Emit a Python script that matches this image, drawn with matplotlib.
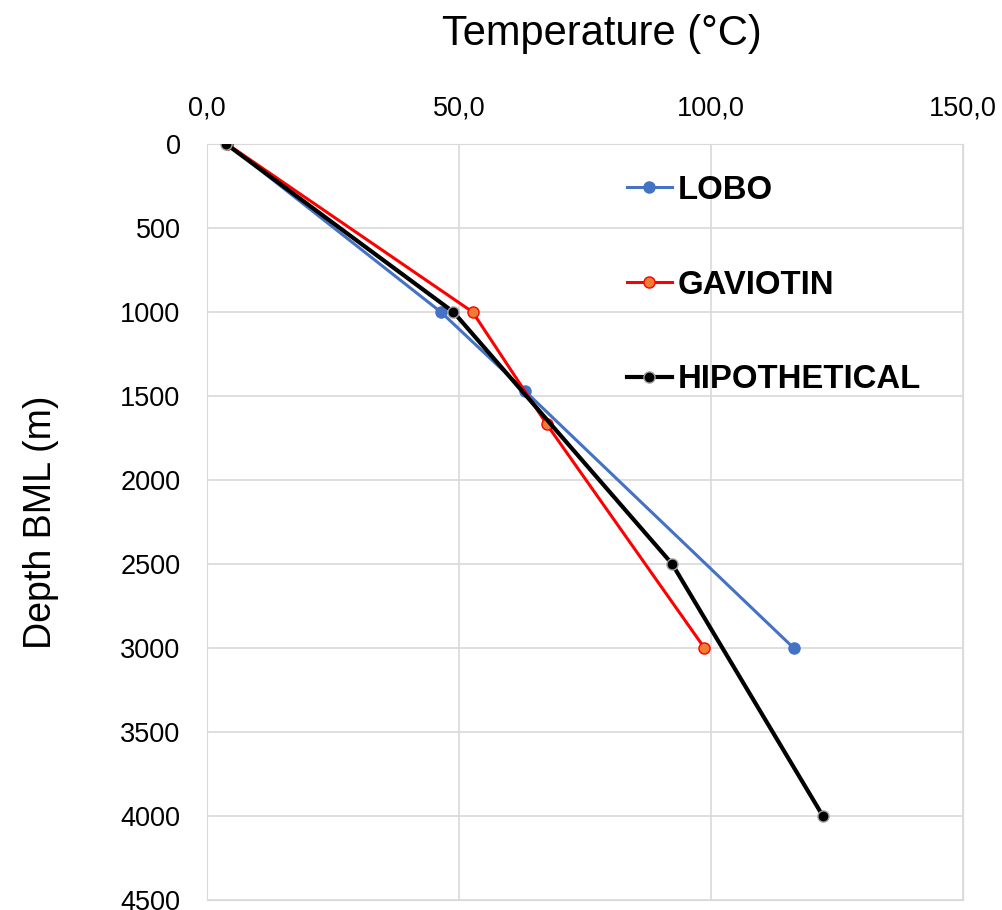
import matplotlib
matplotlib.use("Agg")
import matplotlib.pyplot as plt
from matplotlib.ticker import FuncFormatter

plt.rcParams['font.family'] = ['Liberation Sans', 'DejaVu Sans']

# temperature (C) vs depth below mud line (m)
lobo_temp = [4.0, 46.4, 63.0, 116.4]
lobo_depth = [0, 1000, 1468, 3000]
gav_temp = [4.0, 52.7, 67.4, 98.7]
gav_depth = [0, 1000, 1668, 3000]
hyp_temp = [3.8, 48.9, 92.3, 122.2]
hyp_depth = [0, 1000, 2500, 4000]

fig = plt.figure(figsize=(10.03, 9.10), dpi=100)
ax = fig.add_axes([207/1003, 10/910, 756/1003, 756/910])

ax.plot(lobo_temp, lobo_depth, color='#4472C4', lw=2.2, marker='o', ms=8,
        mfc='#4472C4', mec='#4472C4', label='LOBO', zorder=3)
ax.plot(gav_temp, gav_depth, color='#FF0000', lw=2.2, marker='o', ms=8,
        mfc='#ED7D31', mec='#FF0000', label='GAVIOTIN', zorder=4)
ax.plot(hyp_temp, hyp_depth, color='black', lw=3, marker='o', ms=8,
        mfc='black', mec='#A0A0A0', label='HIPOTHETICAL', zorder=5)

ax.set_xlim(0, 150)
ax.set_ylim(4500, 0)
ax.set_xticks([0, 50, 100, 150])
ax.set_yticks(range(0, 4501, 500))
ax.xaxis.set_major_formatter(FuncFormatter(lambda v, p: f"{v:.1f}".replace('.', ',')))
ax.xaxis.tick_top()
ax.xaxis.set_label_position('top')
ax.tick_params(length=0, labelsize=19.5, colors='#D9D9D9', labelcolor='black')
ax.tick_params(axis='x', pad=16)
ax.tick_params(axis='y', pad=19)
ax.grid(True, color='#D9D9D9', lw=1.2)
ax.set_axisbelow(True)
for s in ax.spines.values():
    s.set_color('#D9D9D9')

ax.set_xlabel('Temperature (°C)', fontsize=30)
ax.xaxis.set_label_coords(0.5225, 1.131)
ax.set_ylabel('Depth BML (m)', fontsize=27, labelpad=44)

leg = ax.legend(loc='upper left', bbox_to_anchor=(0.555, 0.959), frameon=False,
                prop={'weight': 'bold', 'size': 23.7}, handlelength=1.38,
                handletextpad=0.18, labelspacing=1.93, borderpad=0, borderaxespad=0)

fig.savefig('out.png', dpi=100)
